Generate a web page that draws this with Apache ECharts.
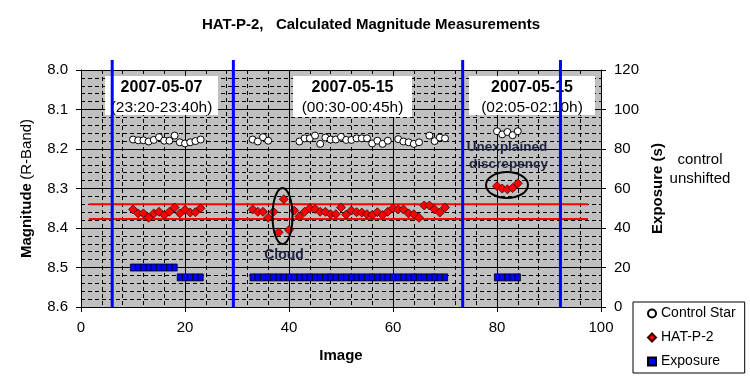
<!DOCTYPE html>
<html><head><meta charset="utf-8">
<script src="https://cdn.jsdelivr.net/npm/echarts/dist/echarts.min.js"></script>
<style>html,body{margin:0;padding:0;background:#fff}#c{width:750px;height:385px}</style>
</head><body><div id="c"></div><script>
// ---- data ----
const controlX = [10,11,12,13,14,15,16,17,18,19,20,21,22,23,
  33,34,35,36,42,43,44,45,46,47,48,49,50,51,52,53,54,55,56,57,58,59,61,62,63,64,65,67,68,69,70,
  80,81,82,83,84];
const controlY = [8.176,8.178,8.178,8.181,8.177,8.170,8.179,8.179,8.166,8.183,8.186,8.183,8.180,8.176,
  8.176,8.181,8.170,8.179,8.181,8.173,8.173,8.166,8.187,8.171,8.176,8.176,8.169,8.177,8.177,8.173,8.173,8.173,8.186,8.179,8.187,8.179,8.175,8.181,8.183,8.187,8.183,8.166,8.180,8.171,8.173,
  8.155,8.163,8.157,8.165,8.155];
const hatX = [10,11,12,13,14,15,16,17,18,19,20,21,22,23,
  33,34,35,36,37,38,39,40,41,42,43,44,45,46,47,48,49,50,51,52,53,54,55,56,57,58,59,60,61,62,63,64,65,66,67,68,69,70,
  80,81,82,83,84];
const hatY = [8.353,8.363,8.363,8.374,8.363,8.359,8.367,8.359,8.348,8.363,8.354,8.361,8.360,8.350,
  8.353,8.359,8.359,8.374,8.359,8.411,8.327,8.405,8.356,8.371,8.359,8.350,8.352,8.359,8.359,8.365,8.365,8.348,8.366,8.356,8.360,8.361,8.365,8.367,8.360,8.367,8.359,8.350,8.353,8.353,8.363,8.365,8.374,8.343,8.343,8.353,8.361,8.348,
  8.294,8.300,8.302,8.299,8.287];
const expoX = hatX;
const expoY = [20,20,20,20,20,20,20,20,20,15,15,15,15,15,
  15,15,15,15,15,15,15,15,15,15,15,15,15,15,15,15,15,15,15,15,15,15,15,15,15,15,15,15,15,15,15,15,15,15,15,15,15,15,
  15,15,15,15,15];
const sessionLinesX = [6, 29.3, 73.4, 92.2];
const refLevels = [8.34, 8.377];
const refRangeX = [1.5, 97.5];
const magTicks = {min: 8.0, max: 8.6, interval: 0.1};
const expTicks = {min: 0, max: 120, interval: 20};
const imgTicks = {min: 0, max: 100, interval: 20};
const sessions = [
  {date: '2007-05-07', time: '(23:20-23:40h)', box: [105, 76, 113, 39]},
  {date: '2007-05-15', time: '(00:30-00:45h)', box: [293, 76, 119, 41]},
  {date: '2007-05-15', time: '(02:05-02:10h)', box: [469, 76, 126, 39]}
];

const FONT = '"Liberation Sans", Arial, sans-serif';
const zip = (xs, ys) => xs.map((x, i) => [x, ys[i]]);

const graphics = [];
sessions.forEach(s => {
  const [x, y, w, h] = s.box;
  graphics.push({type: 'rect', z: 1, shape: {x, y, width: w, height: h}, style: {fill: '#fff'}});
  graphics.push({type: 'text', z: 1, z2: 10, x: x + w / 2, y: y + 11.5,
    style: {text: s.date, font: 'bold 16px ' + FONT, fill: '#000', align: 'center', verticalAlign: 'middle'}});
  graphics.push({type: 'text', z: 1, z2: 10, x: x + w / 2, y: y + 32,
    style: {text: s.time, font: '15.5px ' + FONT, fill: '#000', align: 'center', verticalAlign: 'middle'}});
});
const annColor = '#1c2340';
graphics.push(
  {type: 'ellipse', z: 10, shape: {cx: 282.5, cy: 216, rx: 10, ry: 28}, style: {fill: 'none', stroke: '#000', lineWidth: 2}},
  {type: 'ellipse', z: 10, shape: {cx: 507, cy: 185, rx: 21, ry: 13}, style: {fill: 'none', stroke: '#000', lineWidth: 2}},
  {type: 'text', z: 10, x: 284, y: 255, style: {text: 'Cloud', font: 'bold 14px ' + FONT, fill: annColor, align: 'center', verticalAlign: 'middle', textShadowColor: 'rgba(120,90,40,0.6)', textShadowOffsetX: 1, textShadowOffsetY: 1}},
  {type: 'text', z: 10, x: 507, y: 147, style: {text: 'Unexplained', font: 'bold 13.5px ' + FONT, fill: annColor, align: 'center', verticalAlign: 'middle', textShadowColor: 'rgba(120,90,40,0.6)', textShadowOffsetX: 1, textShadowOffsetY: 1}},
  {type: 'text', z: 10, x: 508.5, y: 164, style: {text: 'discrepency', font: 'bold 13.5px ' + FONT, fill: annColor, align: 'center', verticalAlign: 'middle', textShadowColor: 'rgba(120,90,40,0.6)', textShadowOffsetX: 1, textShadowOffsetY: 1}},
  {type: 'text', z: 10, x: 700, y: 160, style: {text: 'control', font: '15px ' + FONT, fill: '#000', align: 'center', verticalAlign: 'middle'}},
  {type: 'text', z: 10, x: 700, y: 179, style: {text: 'unshifted', font: '15px ' + FONT, fill: '#000', align: 'center', verticalAlign: 'middle'}}
);

const chart = echarts.init(document.getElementById('c'), null, {renderer: 'canvas'});
const axisCommon = {
  axisLine: {show: true, onZero: false, lineStyle: {color: '#000', width: 1}},
  axisTick: {show: true, length: 5, lineStyle: {color: '#000'}},
  axisLabel: {color: '#000', fontSize: 15, margin: 13, fontFamily: FONT}
};
chart.setOption({
  animation: false,
  textStyle: {fontFamily: FONT},
  title: {text: 'HAT-P-2,   Calculated Magnitude Measurements', left: 197, top: 12,
    textStyle: {fontSize: 15, fontWeight: 'bold', color: '#000', fontFamily: FONT}},
  grid: {left: 81, right: 149, top: 70, bottom: 78, show: true, backgroundColor: '#c0c0c0', borderWidth: 0},
  legend: {
    data: ['Control Star', 'HAT-P-2', 'Exposure'], orient: 'vertical', left: 633, top: 302,
    backgroundColor: '#fff', borderColor: '#000', borderWidth: 1, borderRadius: 0,
    padding: [3, 9, 3, 14], itemGap: 7, itemWidth: 8, itemHeight: 8,
    textStyle: {fontSize: 14, color: '#000', lineHeight: 17, fontFamily: FONT}
  },
  xAxis: Object.assign({type: 'value', min: imgTicks.min, max: imgTicks.max, interval: imgTicks.interval,
    name: 'Image', nameLocation: 'middle', nameGap: 41,
    nameTextStyle: {fontWeight: 'bold', fontSize: 15, color: '#000', fontFamily: FONT},
    splitLine: {show: true, lineStyle: {color: '#000', width: 1}},
    minorTick: {show: false, splitNumber: 5},
    minorSplitLine: {show: true, lineStyle: {color: '#000', width: 1, type: [4, 3]}}}, axisCommon),
  yAxis: [
    Object.assign({type: 'value', inverse: true, min: magTicks.min, max: magTicks.max, interval: magTicks.interval,
      name: '{b|Magnitude} {n|(R-Band)}', nameLocation: 'middle', nameGap: 47, nameRotate: 90,
      nameTextStyle: {color: '#000', rich: {b: {fontWeight: 'bold', fontSize: 15, fontFamily: FONT, color: '#000'}, n: {fontSize: 15, fontFamily: FONT, color: '#000'}}},
      splitLine: {show: true, lineStyle: {color: '#000', width: 1}},
      minorTick: {show: false, splitNumber: 5},
      minorSplitLine: {show: true, lineStyle: {color: '#000', width: 1, type: [4, 3]}}}, axisCommon,
      {axisLabel: Object.assign({}, axisCommon.axisLabel, {formatter: v => v.toFixed(1)})}),
    Object.assign({type: 'value', position: 'right', min: expTicks.min, max: expTicks.max, interval: expTicks.interval,
      name: 'Exposure (s)', nameLocation: 'middle', nameGap: 38, nameRotate: 90,
      nameTextStyle: {fontWeight: 'bold', fontSize: 15, color: '#000', fontFamily: FONT},
      splitLine: {show: false}}, axisCommon)
  ],
  series: [
    {type: 'custom', name: 'sessions', clip: false, z: 3, silent: true,
      data: sessionLinesX.map(x => [x]), encode: {x: 0},
      renderItem: (params, api) => {
        const x = api.value(0);
        const pb = api.coord([x, magTicks.max]);
        const pt = api.coord([x, magTicks.min]);
        return {type: 'line', shape: {x1: pb[0], y1: pb[1], x2: pt[0], y2: pt[1] - 10},
          style: {stroke: '#0000ff', lineWidth: 3}};
      }},
    ...refLevels.map(v => ({type: 'line', name: 'ref', z: 2, silent: true, symbol: 'none',
      data: refRangeX.map(x => [x, v]), lineStyle: {color: '#ff0000', width: 2}})),
    {type: 'scatter', name: 'Control Star', z: 4, symbol: 'circle', symbolSize: 7,
      itemStyle: {color: '#ffffff', borderColor: '#000', borderWidth: 1, opacity: 1},
      data: zip(controlX, controlY)},
    {type: 'scatter', name: 'HAT-P-2', z: 4, symbol: 'diamond', symbolSize: 9,
      itemStyle: {color: '#ff0000', borderColor: '#400000', borderWidth: 0.8, opacity: 1},
      data: zip(hatX, hatY)},
    {type: 'scatter', name: 'Exposure', z: 4, yAxisIndex: 1, symbol: 'rect', symbolSize: [5.2, 7],
      itemStyle: {color: '#0000ff', borderColor: '#000', borderWidth: 0.8, opacity: 1},
      data: zip(expoX, expoY)}
  ],
  graphic: graphics
});
</script></body></html>
